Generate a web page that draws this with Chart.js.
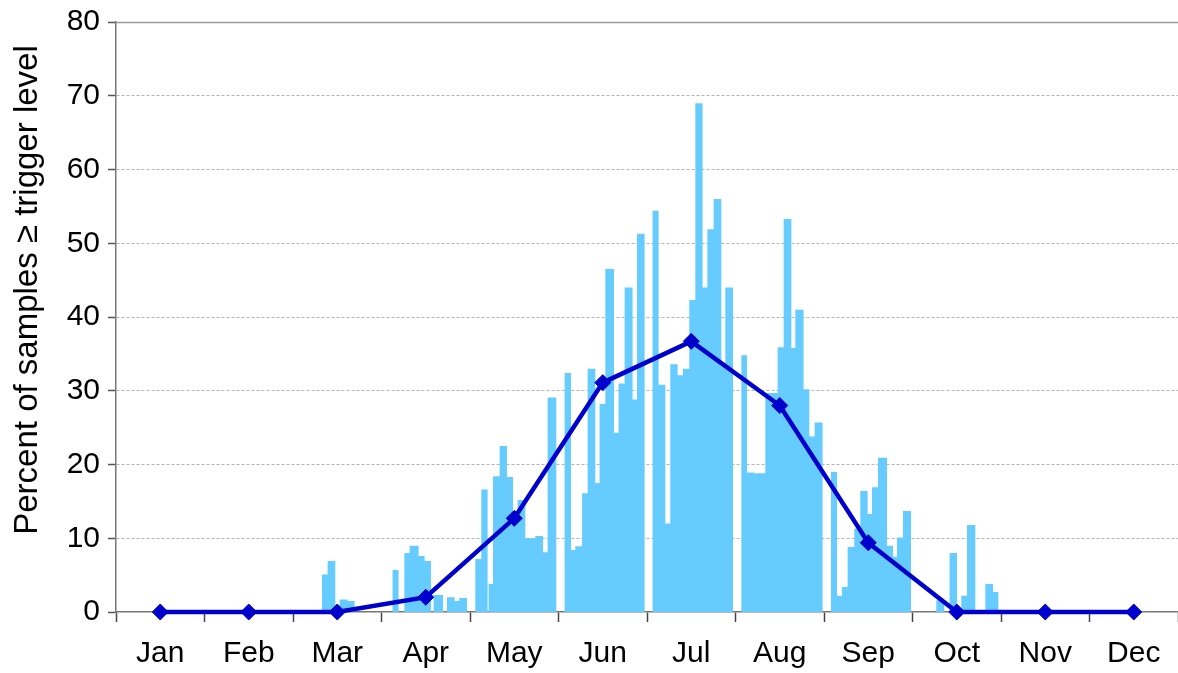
<!DOCTYPE html>
<html>
<head>
<meta charset="utf-8">
<script src="https://cdn.jsdelivr.net/npm/chart.js@4/dist/chart.umd.min.js"></script>
<style>
  body { margin: 0; background: #fff; }
</style>
</head>
<body>
<canvas id="chart" width="1178" height="673"></canvas>
<script>
// monthly percentage (line with diamonds)
const months = ['Jan', 'Feb', 'Mar', 'Apr', 'May', 'Jun', 'Jul', 'Aug', 'Sep', 'Oct', 'Nov', 'Dec'];
const monthlyPercent = [0, 0, 0, 2.0, 12.7, 31.1, 36.7, 28.0, 9.4, 0, 0, 0];

// individual samples, position in months from Jan 1 (start / end) and percent
const barStart = [2.328, 2.391, 2.527, 2.617, 3.125, 3.258, 3.318, 3.419, 3.487, 3.589, 3.740, 3.826, 3.879,
  4.060, 4.128, 4.210, 4.260, 4.335, 4.418, 4.486, 4.538, 4.625, 4.738, 4.825, 4.877,
  5.069, 5.141, 5.190, 5.266, 5.329, 5.416, 5.464, 5.529, 5.627, 5.679, 5.747, 5.837, 5.887,
  6.063, 6.131, 6.207, 6.263, 6.346, 6.407, 6.478, 6.546, 6.628, 6.682, 6.753, 6.840, 6.885,
  7.066, 7.130, 7.205, 7.337, 7.476, 7.544, 7.631, 7.676, 7.769, 7.834, 7.894,
  8.079, 8.147, 8.203, 8.267, 8.342, 8.410, 8.493, 8.542, 8.610, 8.712, 8.780, 8.825, 8.893,
  9.269, 9.419, 9.551, 9.616, 9.823, 9.910];
const barEnd = [2.391, 2.478, 2.617, 2.696, 3.193, 3.318, 3.419, 3.487, 3.559, 3.695, 3.826, 3.879, 3.966,
  4.128, 4.199, 4.260, 4.335, 4.418, 4.486, 4.538, 4.625, 4.738, 4.825, 4.877, 4.975,
  5.141, 5.190, 5.266, 5.329, 5.416, 5.464, 5.529, 5.627, 5.679, 5.747, 5.837, 5.887, 5.973,
  6.131, 6.207, 6.263, 6.346, 6.407, 6.478, 6.546, 6.628, 6.682, 6.753, 6.840, 6.885, 6.972,
  7.130, 7.205, 7.337, 7.476, 7.544, 7.631, 7.676, 7.769, 7.834, 7.894, 7.984,
  8.147, 8.203, 8.267, 8.342, 8.410, 8.493, 8.542, 8.610, 8.712, 8.780, 8.825, 8.893, 8.983,
  9.359, 9.503, 9.616, 9.710, 9.910, 9.973];
const barValue = [5.1, 6.9, 1.7, 1.5, 5.7, 8.0, 9.0, 7.6, 6.9, 2.3, 2.0, 1.5, 1.9,
  7.2, 16.6, 3.8, 18.4, 22.5, 18.3, 13.0, 15.2, 10.0, 10.3, 8.1, 29.1,
  32.4, 8.4, 8.9, 16.1, 33.0, 17.5, 28.2, 46.5, 24.3, 31.0, 44.0, 28.8, 51.3,
  54.4, 30.8, 12.0, 33.6, 32.1, 33.0, 42.3, 69.0, 44.0, 51.9, 56.0, 33.7, 44.0,
  34.8, 18.9, 18.8, 29.7, 35.9, 53.3, 35.8, 41.0, 30.2, 23.8, 25.7,
  19.0, 2.2, 3.4, 8.8, 11.3, 16.4, 13.3, 16.9, 20.9, 9.0, 7.5, 10.1, 13.7,
  1.6, 8.0, 2.2, 11.8, 3.8, 2.7];

const yTicks = [0, 10, 20, 30, 40, 50, 60, 70, 80];
const yTitle = 'Percent of samples \u2265 trigger level';

// stepped outline of the sample columns (drop to 0 where there is a gap)
const samplePoints = [];
for (let i = 0; i < barStart.length; i++) {
  samplePoints.push({ x: barStart[i], y: barValue[i] });
  const last = i === barStart.length - 1;
  if (last || barStart[i + 1] > barEnd[i] + 0.0001) {
    samplePoints.push({ x: barEnd[i], y: 0 });
  }
}

const FONT = 'Arial, "Liberation Sans", sans-serif';
const lineBlue = '#0000CC';

// solid frame line at 80 + the axis title (a bit above centre, like the original)
const extras = {
  id: 'extras',
  beforeDatasetsDraw(chart) {
    const { ctx, chartArea, scales } = chart;
    const y = Math.round(scales.y.getPixelForValue(80)) + 0.5;
    ctx.save();
    ctx.strokeStyle = '#9a9a9a';
    ctx.lineWidth = 1.5;
    ctx.beginPath();
    ctx.moveTo(chartArea.left, y);
    ctx.lineTo(chartArea.right, y);
    ctx.stroke();

    ctx.translate(chartArea.left - 88, (chartArea.top + chartArea.bottom) / 2 - 27);
    ctx.rotate(-Math.PI / 2);
    ctx.fillStyle = '#000';
    ctx.font = '33px ' + FONT;
    ctx.textAlign = 'center';
    ctx.textBaseline = 'middle';
    ctx.fillText(yTitle, 0, 0);
    ctx.restore();
  }
};

new Chart(document.getElementById('chart'), {
  type: 'line',
  data: {
    labels: months,
    datasets: [
      {
        label: 'Monthly',
        data: monthlyPercent,
        xAxisID: 'x',
        borderColor: lineBlue,
        borderWidth: 4.5,
        pointStyle: 'rectRot',
        pointRadius: 8,
        pointBackgroundColor: lineBlue,
        pointBorderColor: lineBlue,
        pointBorderWidth: 1,
        tension: 0,
        clip: false,
        order: 0
      },
      {
        label: 'Samples',
        data: samplePoints,
        xAxisID: 'xb',
        stepped: 'before',
        borderWidth: 0,
        borderColor: 'rgba(0,0,0,0)',
        backgroundColor: '#66CCFF',
        fill: 'origin',
        pointRadius: 0,
        clip: false,
        order: 1
      }
    ]
  },
  options: {
    responsive: false,
    animation: false,
    layout: { autoPadding: false, padding: { top: 22, right: 0, bottom: 0, left: 0 } },
    plugins: {
      legend: { display: false },
      tooltip: { enabled: false }
    },
    scales: {
      x: {
        type: 'category',
        offset: true,
        afterFit: (s) => { s.height = 61; },
        grid: {
          offset: true,
          drawOnChartArea: false,
          tickLength: 10,
          tickColor: '#444',
          tickWidth: 1.5
        },
        border: { color: '#777', width: 1.5 },
        ticks: {
          color: '#000',
          padding: 14,
          font: { family: FONT, size: 30 },
          maxRotation: 0,
          autoSkip: false
        }
      },
      xb: {
        type: 'linear',
        min: 0,
        max: 12,
        display: false
      },
      y: {
        min: 0,
        max: 80,
        afterFit: (s) => { s.width = 116; s.paddingTop = 0; s.paddingBottom = 0; },
        afterBuildTicks: (s) => { s.ticks = yTicks.map(v => ({ value: v })); },
        grid: {
          color: (ctx) => (ctx.tick && (ctx.tick.value === 0 || ctx.tick.value === 80)) ? 'rgba(0,0,0,0)' : '#b4b4b4',
          lineWidth: 1,
          tickLength: 8,
          tickColor: '#555',
          tickWidth: 1.5
        },
        border: { color: '#777', width: 1.5, dash: [3, 2] },
        ticks: {
          color: '#000',
          padding: 8,
          font: { family: FONT, size: 30 }
        }
      }
    }
  },
  plugins: [extras]
});
</script>
</body>
</html>
